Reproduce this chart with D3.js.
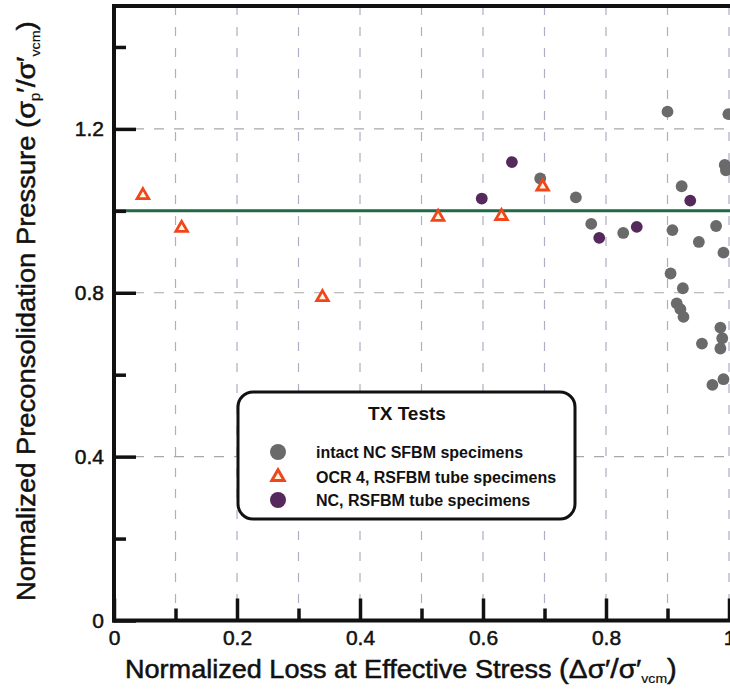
<!DOCTYPE html>
<html><head><meta charset="utf-8">
<script src="https://cdn.jsdelivr.net/npm/d3@7"></script>
<style>body{margin:0;background:#fff}text{font-family:"Liberation Sans",Arial,sans-serif}</style>
</head><body><svg id="c" width="730" height="690"></svg>
<script>
// ---- data ----
const xTickLabels = ["0","0.2","0.4","0.6","0.8","1"];
const xMajorTicks = [0,0.2,0.4,0.6,0.8,1];
const xMinorTicks = [0.1,0.3,0.5,0.7,0.9];
const xGridLines = [0.1,0.2,0.3,0.4,0.5,0.6,0.7,0.8,0.9,1.0];
const yTickLabels = ["0","0.4","0.8","1.2"];
const yMajorTicks = [0,0.4,0.8,1.2];
const yMinorTicks = [0.2,0.6,1.0,1.4];
const yGridLines = [0.4,0.8,1.2];
const referenceLine = 1.0;

// intact NC SFBM specimens (gray circles)
const intactX = [0.693,0.751,0.776,0.828,0.900,0.999,0.923,0.908,0.979,0.951,0.993,0.995,0.991,0.905,0.925,0.915,0.921,0.926,0.956,0.986,0.989,0.986,0.973,0.991];
const intactY = [1.079,1.033,0.968,0.946,1.242,1.236,1.060,0.953,0.963,0.924,1.112,1.099,0.898,0.847,0.811,0.774,0.760,0.741,0.676,0.715,0.689,0.664,0.575,0.589];
// OCR 4, RSFBM tube specimens (triangles)
const ocrX = [0.047,0.110,0.339,0.527,0.630,0.697];
const ocrY = [1.038,0.958,0.789,0.985,0.987,1.059];
// NC, RSFBM tube specimens (purple circles)
const ncX = [0.598,0.647,0.789,0.850,0.937];
const ncY = [1.030,1.119,0.934,0.961,1.025];

const legendTitle = "TX Tests";
const legendLabels = ["intact NC SFBM specimens","OCR 4, RSFBM tube specimens","NC, RSFBM tube specimens"];

// ---- drawing ----
const svg = d3.select("#c");
svg.append("rect").attr("width",730).attr("height",690).attr("fill","#fff");
const x = d3.scaleLinear().domain([0,1]).range([114,729]);
const y = d3.scaleLinear().domain([0,1.5]).range([620.5,6]);

const GRAY="#6a6a6a", PURPLE="#56295c", ORANGE="#f0461e", INK="#111";

// grid
svg.append("g").selectAll("line").data(xGridLines).join("line")
  .attr("x1",d=>x(d)).attr("x2",d=>x(d)).attr("y1",y(1.5)).attr("y2",y(0))
  .attr("stroke","#aeaec4").attr("stroke-width",1.2).attr("stroke-dasharray","9,12");
svg.append("g").selectAll("line").data(yGridLines).join("line")
  .attr("x1",x(0)).attr("x2",730).attr("y1",d=>y(d)).attr("y2",d=>y(d))
  .attr("stroke","#a8a8a8").attr("stroke-width",1.2).attr("stroke-dasharray","10,10");

// reference line
svg.append("line").attr("x1",x(0)).attr("x2",730).attr("y1",y(referenceLine)).attr("y2",y(referenceLine))
  .attr("stroke","#1d6a44").attr("stroke-width",3);

// axes ticks
function styleTicks(g){ g.select(".domain").remove(); g.selectAll("line").attr("stroke",INK).attr("stroke-width",3.5); }
svg.append("g").attr("transform",`translate(0,${y(0)})`)
  .call(d3.axisBottom(x).tickValues(xMajorTicks).tickSize(-22).tickFormat("")).call(styleTicks);
svg.append("g").attr("transform",`translate(0,${y(0)})`)
  .call(d3.axisBottom(x).tickValues(xMinorTicks).tickSize(-12).tickFormat("")).call(styleTicks);
svg.append("g").attr("transform",`translate(${x(0)},0)`)
  .call(d3.axisLeft(y).tickValues(yMajorTicks).tickSize(-22).tickFormat("")).call(styleTicks);
svg.append("g").attr("transform",`translate(${x(0)},0)`)
  .call(d3.axisLeft(y).tickValues(yMinorTicks).tickSize(-12).tickFormat("")).call(styleTicks);

// tick labels
function styleLabels(g){
  g.select(".domain").remove();
  g.selectAll("text").attr("font-size",21).attr("fill",INK).attr("stroke",INK).attr("stroke-width",0.5)
   .style("font-family","'Liberation Sans',Arial,sans-serif");
}
svg.append("g").attr("transform",`translate(0,${y(0)})`)
  .call(d3.axisBottom(x).tickValues(xMajorTicks).tickSize(0).tickPadding(10).tickFormat((d,i)=>xTickLabels[i])).call(styleLabels);
svg.append("g").attr("transform",`translate(${x(0)},0)`)
  .call(d3.axisLeft(y).tickValues(yMajorTicks).tickSize(0).tickPadding(10).tickFormat((d,i)=>yTickLabels[i])).call(styleLabels);

// frame
svg.append("line").attr("x1",x(0)).attr("x2",x(0)).attr("y1",y(1.5)-2).attr("y2",y(0)+2).attr("stroke",INK).attr("stroke-width",4);
svg.append("line").attr("x1",x(0)-2).attr("x2",730).attr("y1",y(1.5)).attr("y2",y(1.5)).attr("stroke",INK).attr("stroke-width",4);
svg.append("line").attr("x1",x(0)-2).attr("x2",730).attr("y1",y(0)).attr("y2",y(0)).attr("stroke",INK).attr("stroke-width",4);

// points
const tri = d3.symbol().type(d3.symbolTriangle).size(58);
svg.append("g").selectAll("circle").data(intactX.map((v,i)=>[v,intactY[i]])).join("circle")
  .attr("cx",d=>x(d[0])).attr("cy",d=>y(d[1])).attr("r",5.9).attr("fill",GRAY);
svg.append("g").selectAll("path").data(ocrX.map((v,i)=>[v,ocrY[i]])).join("path")
  .attr("d",tri).attr("transform",d=>`translate(${x(d[0])},${y(d[1])})`)
  .attr("fill","#fff7dc").attr("stroke",ORANGE).attr("stroke-width",2.8);
svg.append("g").selectAll("circle").data(ncX.map((v,i)=>[v,ncY[i]])).join("circle")
  .attr("cx",d=>x(d[0])).attr("cy",d=>y(d[1])).attr("r",5.9).attr("fill",PURPLE);

// legend
const lg = svg.append("g");
lg.append("rect").attr("x",238).attr("y",392).attr("width",337).attr("height",127).attr("rx",15)
  .attr("fill","#fff").attr("stroke",INK).attr("stroke-width",3);
lg.append("text").attr("x",407).attr("y",420).attr("text-anchor","middle").attr("font-size",19).attr("font-weight","bold").attr("fill",INK).text(legendTitle);
const rowsY=[452,477,500];
lg.append("circle").attr("cx",278).attr("cy",rowsY[0]).attr("r",8).attr("fill",GRAY);
lg.append("path").attr("d",d3.symbol().type(d3.symbolTriangle).size(66)).attr("transform",`translate(278,${rowsY[1]})`)
  .attr("fill","#fff7dc").attr("stroke",ORANGE).attr("stroke-width",3);
lg.append("circle").attr("cx",278).attr("cy",rowsY[2]).attr("r",8).attr("fill",PURPLE);
legendLabels.forEach((t,i)=>{
  lg.append("text").attr("x",316).attr("y",rowsY[i]+6).attr("font-size",16).attr("font-weight","bold").attr("fill",INK).text(t);
});

// axis titles
function fit(sel, w){ const b = sel.node().getBBox(); return w/b.width; }
const xt = svg.append("text").attr("font-size",25).attr("fill",INK).attr("stroke",INK).attr("stroke-width",0.5);
xt.append("tspan").text("Normalized Loss at Effective Stress ");
xt.append("tspan").attr("font-size",27).text("(");
xt.append("tspan").attr("font-size",26).text("Δσ′");
xt.append("tspan").attr("font-size",28).text("/");
xt.append("tspan").attr("font-size",26).text("σ′");
xt.append("tspan").attr("font-size",13).attr("stroke-width",0.2).attr("dy",5).text("vcm");
xt.append("tspan").attr("font-size",27).attr("dy",-5).text(")");
const kx = fit(xt,552);
xt.attr("transform",`translate(125,678) scale(${kx},1)`);

const yt = svg.append("text").attr("font-size",25).attr("fill",INK).attr("stroke",INK).attr("stroke-width",0.5);
yt.append("tspan").text("Normalized Preconsolidation Pressure (");
yt.append("tspan").attr("font-size",26).text("σ");
yt.append("tspan").attr("font-size",14).attr("stroke-width",0.2).attr("dy",5).text("p");
yt.append("tspan").attr("font-size",26).attr("dy",-5).text("′/σ′");
yt.append("tspan").attr("font-size",13).attr("stroke-width",0.2).attr("dy",5).text("vcm");
yt.append("tspan").attr("dy",-5).text(")");
const ky = fit(yt,580);
yt.attr("transform",`translate(35,601) rotate(-90) scale(${ky},1)`);
</script></body></html>
